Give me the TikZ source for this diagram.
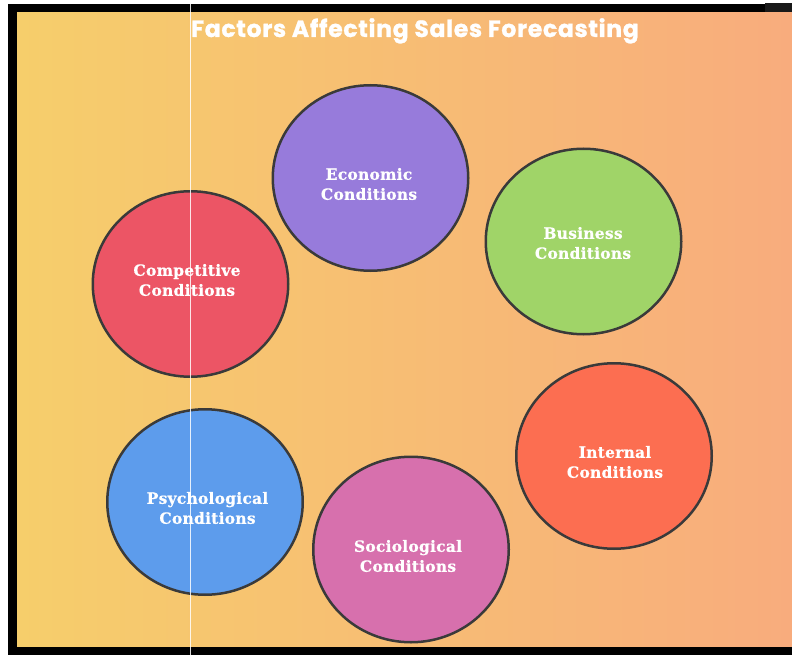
\documentclass[tikz,border=0pt]{standalone}
\usepackage{fontspec}
\usetikzlibrary{shapes.geometric}
\newfontfamily\titlefont{Poppins}[LetterSpace=3, FakeBold=1.2]
\newfontfamily\slabfont{DejaVu Serif}[LetterSpace=1.5, FakeBold=0.6]
\definecolor{bgA}{HTML}{F6CE6B}
\definecolor{bgB}{HTML}{F8AC7D}
\definecolor{ringline}{HTML}{3A3A3A}
\definecolor{ecoC}{HTML}{977BDB}
\definecolor{busC}{HTML}{A0D468}
\definecolor{comC}{HTML}{EC5565}
\definecolor{intC}{HTML}{FC6E51}
\definecolor{psyC}{HTML}{5D9CEC}
\definecolor{socC}{HTML}{D770AD}
\tikzset{
  factor/.style={ellipse, draw=ringline, line width=2.5pt,
    minimum width=195.5pt, minimum height=185.5pt, inner sep=0pt},
  factorlabel/.style={text=white, align=center, inner sep=0pt,
    font=\slabfont\bfseries\fontsize{15.5}{20}\selectfont},
  heading/.style={text=white, anchor=base,
    font=\titlefont\bfseries\fontsize{23.5}{28}\selectfont}
}
\begin{document}
\begin{tikzpicture}[x=1pt,y=-1pt]
\useasboundingbox (0,0) rectangle (792,655);
% page background and frame
\fill[white] (0,0) rectangle (792,655);
\shade[left color=bgA, right color=bgB] (17,12) rectangle (792,647);
\fill[black] (8,4) rectangle (765,12);
\fill[black!90] (765,3) rectangle (792,12);
\fill[black] (8,4) rectangle (17,655);
\fill[black] (8,647) rectangle (792,655);
% heading
\node[heading] (title) at (415,37) {Factors Affecting Sales Forecasting};
% factor circles
\node[factor, fill=ecoC] (eco) at (370.5,178) {};
\node[factor, fill=busC] (bus) at (583.5,241.5) {};
\node[factor, fill=comC] (com) at (190.5,284) {};
\node[factor, fill=intC] (int) at (614,456) {};
\node[factor, fill=psyC] (psy) at (205,502) {};
\node[factor, fill=socC] (soc) at (411,549.5) {};
% labels
\node[factorlabel] (ecoL) at (369,184) {Economic\\Conditions};
\node[factorlabel] (busL) at (583,243) {Business\\Conditions};
\node[factorlabel] (comL) at (187,280) {Competitive\\Conditions};
\node[factorlabel] (intL) at (615,462) {Internal\\Conditions};
\node[factorlabel] (psyL) at (207.5,508) {Psychological\\Conditions};
\node[factorlabel] (socL) at (408,556) {Sociological\\Conditions};
% thin vertical guide
\coordinate (gtop) at (190.5,0);
\coordinate (gbot) at (190.5,655);
\draw[white, opacity=0.85, line width=1.5pt] (gtop) -- (gbot);
\end{tikzpicture}
\end{document}
